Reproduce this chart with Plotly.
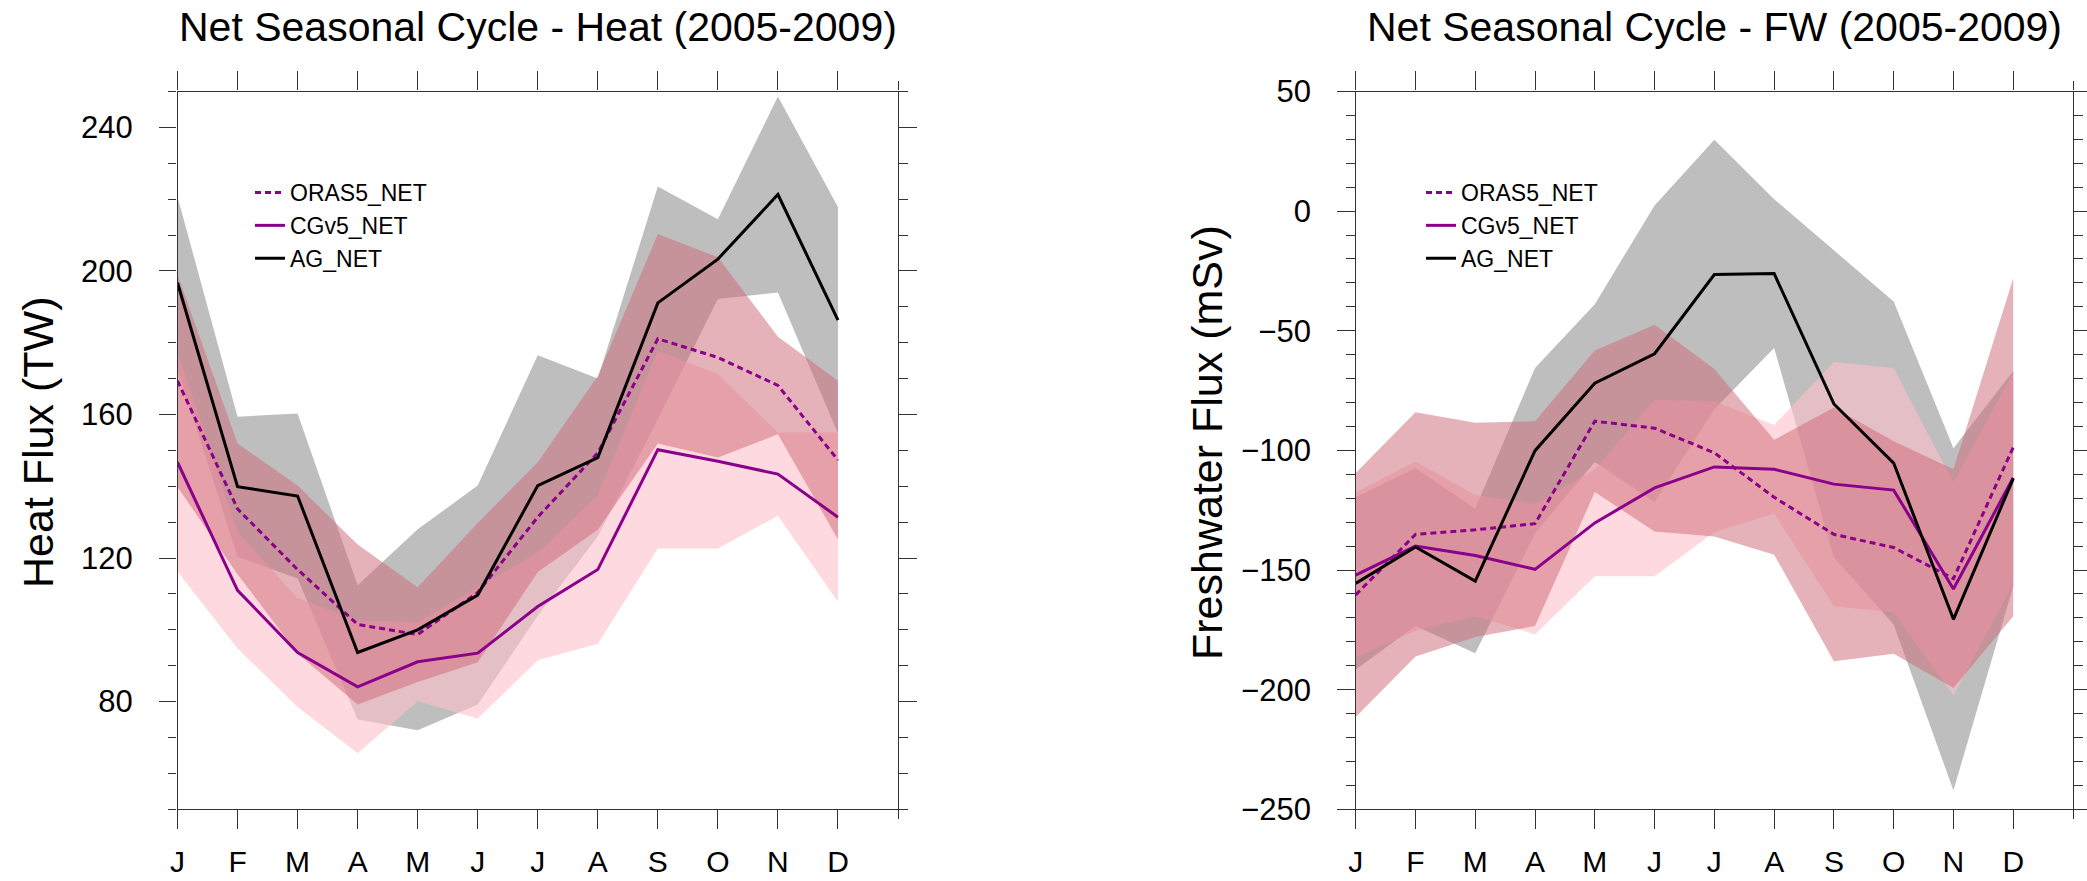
import numpy as np
import plotly.graph_objects as go

# ---- data -------------------------------------------------------------
months = ["J", "F", "M", "A", "M", "J", "J", "A", "S", "O", "N", "D"]

# Heat flux (TW): monthly means and spread
heat_oras5 = [169.4, 133.7, 116.8, 101.5, 98.7, 110.4, 131.4, 149.3, 181.1, 175.9, 168.1, 147.3]
heat_oras5_sd = [29.6, 18.2, 23.4, 22.3, 13.2, 19.4, 15.3, 21.4, 29.2, 27.9, 13.6, 22.1]
heat_cgv5 = [146.7, 111.0, 93.7, 84.1, 91.1, 93.5, 106.5, 116.8, 150.2, 147.0, 143.4, 131.4]
heat_cgv5_sd = [30.5, 16.2, 15.2, 18.5, 11.0, 18.2, 15.0, 20.7, 27.5, 24.3, 11.6, 23.6]
heat_ag = [196.7, 139.9, 137.3, 93.7, 100.0, 109.7, 140.2, 148.0, 191.1, 203.3, 221.3, 186.3]
heat_ag_sd = [24.0, 19.5, 23.0, 18.7, 28.0, 30.5, 36.3, 22.0, 32.4, 11.1, 27.3, 31.5]

# Freshwater flux (mSv): monthly means and spread
fw_oras5 = [-160.4, -135.1, -133.2, -130.6, -87.8, -90.7, -101.0, -119.6, -135.1, -140.6, -153.6, -98.7]
fw_oras5_sd = [51.0, 51.0, 44.8, 42.8, 29.6, 43.2, 35.0, 24.0, 53.0, 44.4, 45.7, 70.6]
fw_cgv5 = [-152.1, -140.0, -143.9, -149.7, -130.3, -115.7, -106.9, -107.9, -114.1, -116.6, -157.9, -111.4]
fw_cgv5_sd = [34.5, 35.4, 25.3, 27.2, 22.3, 36.9, 27.3, 18.5, 51.0, 51.0, 44.4, 44.2]
fw_ag = [-155.6, -140.4, -154.6, -100.1, -71.9, -59.6, -26.5, -26.1, -80.6, -105.3, -170.6, -111.8]
fw_ag_sd = [36.0, 33.0, 30.2, 34.5, 33.0, 62.0, 56.3, 31.1, 64.2, 67.5, 71.5, 45.0]

heat_ticks = [80, 120, 160, 200, 240]
fw_ticks = [-250, -200, -150, -100, -50, 0, 50]

# ---- styling ----------------------------------------------------------
FONT = "Liberation Sans, Arial, Helvetica, sans-serif"
PURPLE = "#8B008B"
GRAY_FILL = "#BEBEBE"
PINK_FILL = "rgba(255,192,203,0.6)"
ROSE_FILL = "rgba(208,108,120,0.52)"
AXIS_COLOR = "#333333"

W, H = 2087, 881
x = np.arange(12)

fig = go.Figure()


def add_band(mean, sd, color, xa, ya):
    m = np.asarray(mean, dtype=float)
    s = np.asarray(sd, dtype=float)
    upper, lower = m + s, m - s
    fig.add_trace(go.Scatter(
        x=np.concatenate([x, x[::-1]]),
        y=np.concatenate([upper, lower[::-1]]),
        fill="toself", fillcolor=color, mode="lines",
        line=dict(width=0), hoverinfo="skip", showlegend=False,
        xaxis=xa, yaxis=ya,
    ))


def add_line(vals, name, color, dash, xa, ya, legend):
    fig.add_trace(go.Scatter(
        x=x, y=vals, mode="lines", name=name,
        line=dict(color=color, width=3, dash=dash),
        xaxis=xa, yaxis=ya, legend=legend,
    ))


panels = [
    ("x", "y", "legend", heat_oras5, heat_oras5_sd, heat_cgv5, heat_cgv5_sd, heat_ag, heat_ag_sd),
    ("x2", "y2", "legend2", fw_oras5, fw_oras5_sd, fw_cgv5, fw_cgv5_sd, fw_ag, fw_ag_sd),
]

for xa, ya, lg, o, osd, c, csd, a, asd in panels:
    add_band(a, asd, GRAY_FILL, xa, ya)
    add_band(c, csd, PINK_FILL, xa, ya)
    add_band(o, osd, ROSE_FILL, xa, ya)

for xa, ya, lg, o, osd, c, csd, a, asd in panels:
    add_line(o, "ORAS5_NET", PURPLE, "6px,4px", xa, ya, lg)
    add_line(c, "CGv5_NET", PURPLE, "solid", xa, ya, lg)
    add_line(a, "AG_NET", "black", "solid", xa, ya, lg)

# ---- axes -------------------------------------------------------------
plot_top, plot_bottom = 91.5, 809.3
ydom = [(H - plot_bottom) / H, (H - plot_top) / H]
xdom1 = [177.5 / W, 898.0 / W]
xdom2 = [1355.7 / W, 2073.0 / W]

xaxis_common = dict(
    range=[0, 12], tickmode="array", tickvals=list(range(12)), ticktext=months,
    ticks="outside", ticklen=19, tickwidth=1.2, tickcolor=AXIS_COLOR,
    showline=True, linecolor=AXIS_COLOR, linewidth=1.2, mirror="allticks",
    showgrid=False, zeroline=False, ticklabelstandoff=7, automargin=False,
    tickfont=dict(family=FONT, size=30, color="black"),
    minor=dict(tickmode="array", tickvals=[12], ticks="outside", ticklen=9,
               tickwidth=1.2, tickcolor=AXIS_COLOR),
)

yaxis_common = dict(
    tickmode="array", ticks="outside", ticklen=17.5, tickwidth=1.2,
    tickcolor=AXIS_COLOR, showline=True, linecolor=AXIS_COLOR, linewidth=1.2,
    mirror="allticks", showgrid=False, zeroline=False, ticklabelstandoff=20,
    automargin=False,
    tickfont=dict(family=FONT, size=31, color="black"),
    minor=dict(dtick=10, tick0=0, ticks="outside", ticklen=8.5, tickwidth=1.2,
               tickcolor=AXIS_COLOR),
)

legend_common = dict(
    xanchor="left", yanchor="top", bgcolor="rgba(0,0,0,0)",
    font=dict(family=FONT, size=23, color="black"), tracegroupgap=0, itemwidth=30,
)

fig.update_layout(
    width=W, height=H,
    margin=dict(l=0, r=0, t=0, b=0, autoexpand=False),
    paper_bgcolor="white", plot_bgcolor="white",
    font=dict(family=FONT, color="black"),
    xaxis=dict(domain=xdom1, anchor="y", **xaxis_common),
    yaxis=dict(domain=ydom, anchor="x", range=[50, 250], tickvals=heat_ticks, **yaxis_common),
    xaxis2=dict(domain=xdom2, anchor="y2", **xaxis_common),
    yaxis2=dict(domain=ydom, anchor="x2", range=[-250, 50], tickvals=fw_ticks, **yaxis_common),
    legend=dict(x=250 / W, y=(H - 171) / H, **legend_common),
    legend2=dict(x=1421 / W, y=(H - 171) / H, **legend_common),
    showlegend=True,
)

annotations = [
    dict(text="Net Seasonal Cycle - Heat (2005-2009)", x=(xdom1[0] + xdom1[1]) / 2,
         y=(H - 27) / H, size=41),
    dict(text="Net Seasonal Cycle - FW (2005-2009)", x=(xdom2[0] + xdom2[1]) / 2,
         y=(H - 27) / H, size=41),
    dict(text="Heat Flux (TW)", x=38 / W, y=(H - 443) / H, textangle=-90, size=43),
    dict(text="Freshwater Flux (mSv)", x=1207 / W, y=(H - 443) / H, textangle=-90, size=43),
]
for a in annotations:
    size = a.pop("size")
    fig.add_annotation(xref="paper", yref="paper", showarrow=False,
                       xanchor="center", yanchor="middle",
                       font=dict(family=FONT, size=size, color="black"), **a)

fig.write_html("out.html")
